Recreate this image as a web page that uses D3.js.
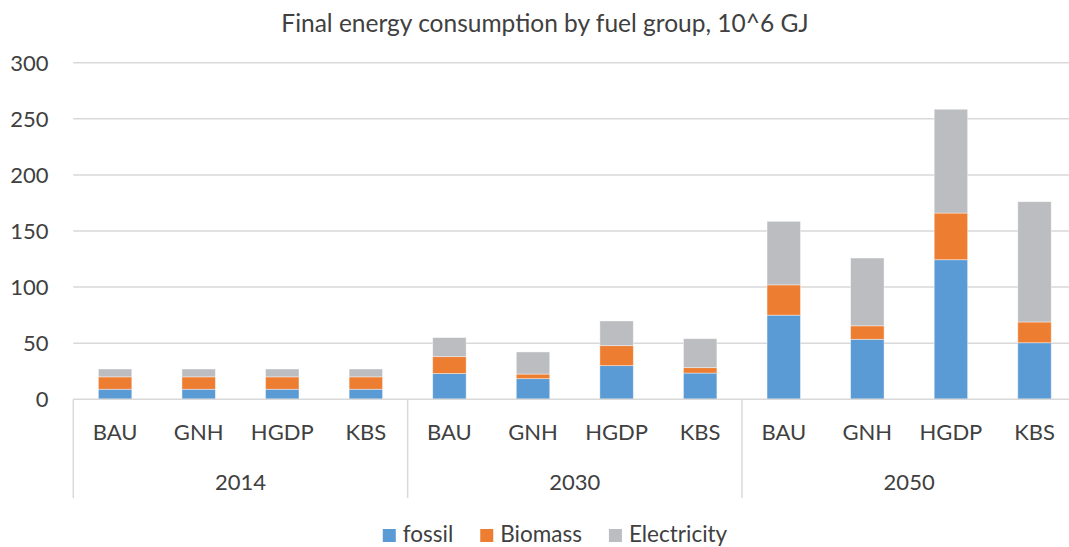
<!DOCTYPE html>
<html>
<head>
<meta charset="utf-8">
<script src="https://cdn.jsdelivr.net/npm/d3@7"></script>
<style>
  body { margin: 0; background: #fff; }
  text { font-family: Lato, "Open Sans", sans-serif; fill: #404040; }
</style>
</head>
<body>
<div id="chart"></div>
<script>
const years = ['2014', '2030', '2050']
const scenarios = ['BAU', 'GNH', 'HGDP', 'KBS']
const seriesNames = ['fossil', 'Biomass', 'Electricity']
const fossil = [9, 9, 9, 9, 23, 18.4, 30, 23.4, 75, 53.5, 124.4, 50.4]
const biomass = [11, 11, 11, 11, 15, 4.1, 17.8, 4.8, 27, 12, 41.6, 18.5]
const electricity = [7, 7, 7, 7, 17, 19.7, 22, 25.8, 56.6, 60.4, 92.5, 107.2]
const yTicks = [0, 50, 100, 150, 200, 250, 300]
const title = 'Final energy consumption by fuel group, 10^6 GJ'

const colors = ['#5b9bd5', '#ed7d31', '#bcbdc0']
const width = 1069
const height = 547
const plot = { left: 73.3, right: 1076.3, top: 62.7, bottom: 399.3 }
const axisBottom = 498

const rows = []
years.forEach((yr, gi) => {
    scenarios.forEach((sc, si) => {
        const i = gi * scenarios.length + si
        rows.push({
            key: yr + '|' + sc,
            year: yr,
            scenario: sc,
            fossil: fossil[i],
            Biomass: biomass[i],
            Electricity: electricity[i],
        })
    })
})

const svg = d3.select('#chart').append('svg')
    .attr('width', width)
    .attr('height', height)

const x = d3.scaleBand()
    .domain(rows.map(d => d.key))
    .range([plot.left, plot.right])
    .paddingInner(0.6)
    .paddingOuter(0.3)

const y = d3.scaleLinear()
    .domain([0, 300])
    .range([plot.bottom, plot.top])

// title
svg.append('text')
    .attr('x', 545)
    .attr('y', 32)
    .attr('text-anchor', 'middle')
    .style('font-size', '24.5px')
    .text(title)

// gridlines + y labels
svg.append('g').selectAll('line')
    .data(yTicks.filter(t => t > 0))
    .join('line')
    .attr('x1', plot.left)
    .attr('x2', plot.right)
    .attr('y1', d => y(d))
    .attr('y2', d => y(d))
    .attr('stroke', '#d9d9d9')
    .attr('stroke-width', 1.5)

svg.append('g').selectAll('text')
    .data(yTicks)
    .join('text')
    .attr('x', 48.5)
    .attr('y', d => y(d))
    .attr('dy', '0.36em')
    .attr('text-anchor', 'end')
    .style('font-size', '22px')
    .text(d => d)

// stacked bars
const stack = d3.stack().keys(seriesNames)
const layers = stack(rows)

svg.append('g').selectAll('g')
    .data(layers)
    .join('g')
    .attr('fill', (d, i) => colors[i])
    .selectAll('rect')
    .data(d => d)
    .join('rect')
    .attr('x', d => x(d.data.key))
    .attr('width', x.bandwidth())
    .attr('y', d => y(d[1]))
    .attr('height', d => y(d[0]) - y(d[1]))
    .attr('stroke', '#ffffff')
    .attr('stroke-opacity', 0.5)
    .attr('stroke-width', 0.8)

// category axis
const axis = svg.append('g')
axis.append('line')
    .attr('x1', plot.left)
    .attr('x2', plot.right)
    .attr('y1', plot.bottom)
    .attr('y2', plot.bottom)
    .attr('stroke', '#d9d9d9')
    .attr('stroke-width', 1.5)

const step = x.step()
const groupWidth = step * scenarios.length
const groupEdges = d3.range(years.length + 1).map(i => plot.left + i * groupWidth)

axis.selectAll('line.div')
    .data(groupEdges)
    .join('line')
    .attr('class', 'div')
    .attr('x1', d => d)
    .attr('x2', d => d)
    .attr('y1', plot.bottom)
    .attr('y2', axisBottom)
    .attr('stroke', '#d9d9d9')
    .attr('stroke-width', 1.5)

axis.selectAll('text.cat')
    .data(rows)
    .join('text')
    .attr('class', 'cat')
    .attr('x', d => x(d.key) + x.bandwidth() / 2)
    .attr('y', 440)
    .attr('text-anchor', 'middle')
    .style('font-size', '22px')
    .text(d => d.scenario)

axis.selectAll('text.year')
    .data(years)
    .join('text')
    .attr('class', 'year')
    .attr('x', (d, i) => groupEdges[i] + groupWidth / 2)
    .attr('y', 490)
    .attr('text-anchor', 'middle')
    .style('font-size', '22px')
    .text(d => d)

// legend
const legend = svg.append('g')
let cursor = 0
seriesNames.forEach((name, i) => {
    const g = legend.append('g')
    g.append('rect')
        .attr('width', 13)
        .attr('height', 13)
        .attr('y', -13)
        .attr('fill', colors[i])
    const t = g.append('text')
        .attr('x', 20)
        .style('font-size', '22.5px')
        .text(name)
    const w = 20 + t.node().getComputedTextLength()
    g.attr('transform', `translate(${cursor},0)`)
    cursor += w + 27
})
const legendWidth = cursor - 27
legend.attr('transform', `translate(${555 - legendWidth / 2},542)`)
</script>
</body>
</html>
